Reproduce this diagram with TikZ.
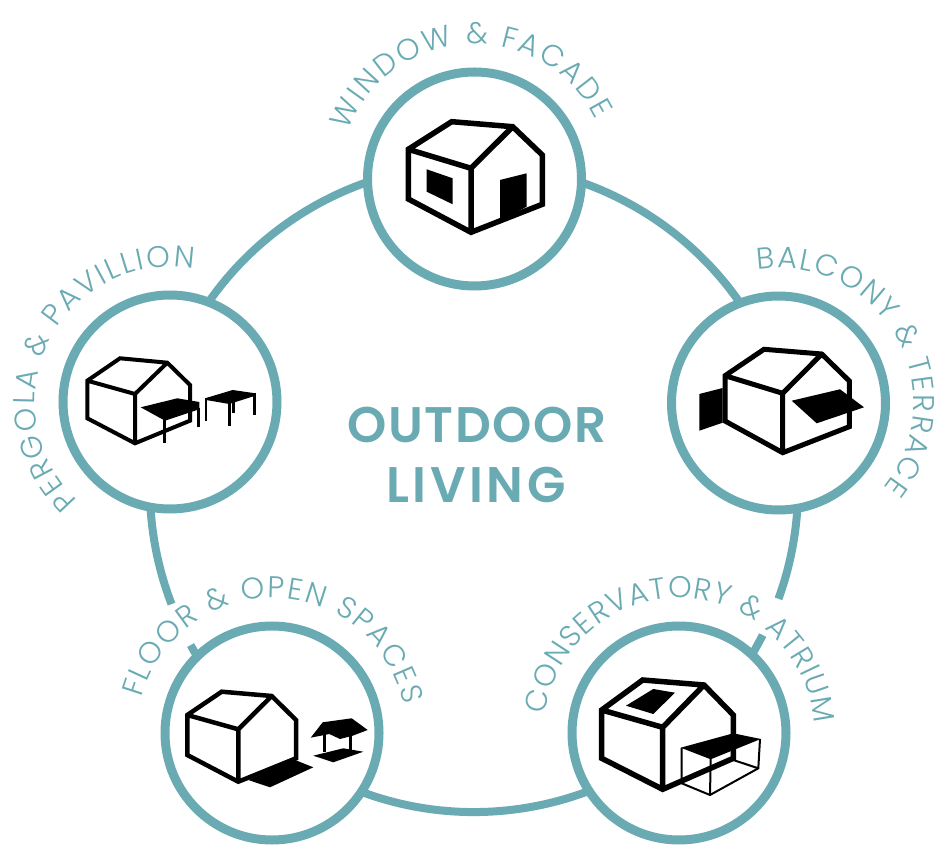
\documentclass[tikz,border=0pt]{standalone}
\usepackage{fontspec}
\usetikzlibrary{decorations.text}
\newfontfamily\lblfont{Poppins Light}
\newfontfamily\ttlfont[LetterSpace=3]{Poppins SemiBold}
\newfontfamily\ttlwide[LetterSpace=7]{Poppins SemiBold}
\definecolor{tc}{HTML}{6AABB3}
\tikzset{
  x=1pt,y=1pt,
  hub/.style={circle,draw=tc,line width=9pt,fill=white,minimum size=214pt,inner sep=0pt},
  ring/.style={draw=tc,line width=8pt},
  hs/.style={draw=black,line width=#1,line join=miter,miter limit=10},
  blk/.style={fill=black,draw=none},
  leg/.style={draw=black,line width=#1},
  lab/.style={decorate,decoration={text along path,text align={fit to path},
     text={|\color{tc}\lblfont\fontsize{30}{32}\selectfont|#1}}},
  ttl/.style={text=tc,font=\ttlfont\fontsize{50}{52}\selectfont,inner sep=0pt,anchor=base}
}
\newcommand\housepath[9]{% width, back, ridge, eave, rb, bottom, lb, lt, front
  \draw[hs=#1] #2 -- #3 -- #4 -- #5 -- #6 -- #7 -- #8 -- cycle #8 -- #9 -- #3 #9 -- #6;}
\begin{document}
\begin{tikzpicture}
\useasboundingbox (0,0) rectangle (950,860);
\fill[white] (0,0) rectangle (950,860);
\coordinate (rc) at (474,372);
% big ring
\draw[ring] (rc) ++(201:324) arc[start angle=201,end angle=-20,radius=324];
\draw[ring] (rc) ++(-27:324) arc[start angle=-27,end angle=-151,radius=324];
% hubs
\node[hub] (top) at (474.5,681) {};
\node[hub] (right) at (778.5,457) {};
\node[hub] (left) at (170,458) {};
\node[hub] (bl) at (272,127) {};
\node[hub] (br) at (679,127) {};
% curved labels
\path[lab={WINDOW {\&} FACADE}] (top) ++(159:135) arc[start angle=159,end angle=26,radius=135];
\path[lab={BALCONY {\&} TERRACE}] (right) ++(99:135) arc[start angle=99,end angle=-39,radius=135];
\path[lab={PERGOLA {\&} PAVILLION}] (left) ++(227:135) arc[start angle=227,end angle=80,radius=135];
\path[lab={FLOOR {\&} OPEN SPACES}] (bl) ++(165:135) arc[start angle=165,end angle=12,radius=135];
\path[lab={CONSERVATORY {\&} ATRIUM}] (br) ++(172:135) arc[start angle=172,end angle=4,radius=135];
% title
\node[ttl] (t1) at (477,417) {OUTDOOR};
\node[ttl,font=\ttlwide\fontsize{50}{52}\selectfont] (t2) at (476,357) {LIVING};
% drawings in image coordinates
\begin{scope}[yshift=860pt,yscale=-1]
% house 1
\housepath{5.5pt}{(451.7,121.7)}{(512.7,126.7)}{(542.3,155)}{(542.3,204.3)}{(471,232.3)}{(408.3,199)}{(408.3,149.3)}{(471,168.3)}
\fill[blk] (426.7,169.3) -- (452.7,178.3) -- (452.7,204.3) -- (426.7,191.7) -- cycle;
\fill[blk] (500,180) -- (526.7,173.3) -- (526.7,206.7) -- (500,220.7) -- cycle;
% house 2
\housepath{5pt}{(764,349.3)}{(821.7,354)}{(849.3,381)}{(849.3,426.7)}{(782.7,452.7)}{(725,421)}{(725,375.7)}{(782.7,393.3)}
\fill[blk] (699.3,394) -- (722.7,388) -- (722.7,422.7) -- (699.3,430.7) -- cycle;
\fill[blk] (791.7,400.7) -- (840,389.3) -- (864,407.3) -- (816.7,423.3) -- cycle;
% house 3
\housepath{4pt}{(120,358.3)}{(167.3,362.7)}{(190,385)}{(190,420.7)}{(135,443.3)}{(87.3,418.3)}{(87.3,380.7)}{(135,394)}
\fill[blk] (140.7,407.3) -- (177.3,398.3) -- (199.3,402) -- (199.3,409.3) -- (165,420.7) -- cycle;
\draw[leg=3pt] (164,420) -- (164,442.7);
\draw[leg=3pt] (198.3,408) -- (198.3,427.3);
\fill[blk] (205,398.3) -- (232.7,390) -- (255.3,393.3) -- (255.3,395.7) -- (229.3,404) -- (206,400) -- cycle;
\draw[leg=2.8pt] (206,398) -- (206,420.7);
\draw[leg=2.8pt] (229.3,403) -- (229.3,426);
\draw[leg=2.8pt] (233.3,400) -- (233.3,412.7);
\draw[leg=2.8pt] (254.3,393) -- (254.3,414.7);
% house 4
\housepath{4.5pt}{(221.7,691.7)}{(271.7,696)}{(296,720)}{(296,758.3)}{(238.3,781.7)}{(187.3,755)}{(187.3,715)}{(238.3,729.3)}
\fill[blk] (248.3,780) -- (295,760) -- (313.3,767.3) -- (270,787.3) -- cycle;
\fill[blk] (310.7,737.7) -- (322.7,722.3) -- (351.7,718.3) -- (367.7,730) -- (352.7,735.7) -- (340,739) -- (329.3,734) -- cycle;
\draw[leg=3.2pt] (324.3,733) -- (324.3,752);
\draw[leg=3.2pt] (350.3,733) -- (350.3,750);
\fill[blk] (313.3,755.7) -- (343.3,748.3) -- (363.3,751.7) -- (333.3,762.3) -- cycle;
% house 5
\housepath{5.5pt}{(642.7,680)}{(704,685)}{(733.3,715)}{(733.3,758.3)}{(662.7,789.3)}{(601.7,758.3)}{(601.7,710)}{(662.7,727.3)}
\fill[blk] (626,705.7) -- (653.3,689) -- (675,692.7) -- (653.3,714) -- cycle;
\fill[blk] (680.7,747.7) -- (733.3,733.3) -- (760.7,739) -- (710.7,759.3) -- cycle;
\draw[leg=2pt,line join=miter] (681.7,748) -- (681.7,783.3) -- (710,795) -- (758.3,768.3) -- (760,739);
\draw[leg=2pt] (710.7,759) -- (710,795);
\draw[leg=2pt] (733.3,760) -- (758.3,768.3);
\end{scope}
\end{tikzpicture}
\end{document}
